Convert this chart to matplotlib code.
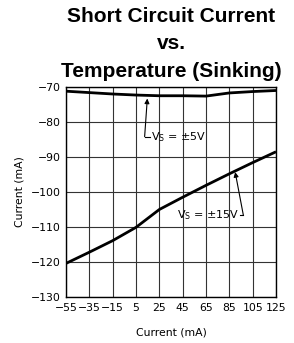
import matplotlib
matplotlib.use("Agg")
import matplotlib.pyplot as plt

# data
temp = [-55, -35, -15, 5, 25, 45, 65, 85, 105, 125]
i_5v = [-71.2, -71.6, -72.0, -72.3, -72.5, -72.5, -72.6, -71.7, -71.3, -71.0]
i_15v = [-120.4, -117.2, -113.9, -110.1, -105.0, -101.5, -98.1, -94.8, -91.6, -88.5]

xticks = [-55, -35, -15, 5, 25, 45, 65, 85, 105, 125]
yticks = [-70, -80, -90, -100, -110, -120, -130]

fig = plt.figure(figsize=(2.94, 3.43), dpi=100)
ax = fig.add_axes([66 / 294, 46 / 343, 210 / 294, 210 / 343])

ax.plot(temp, i_5v, color="black", lw=2.0, solid_capstyle="butt")
ax.plot(temp, i_15v, color="black", lw=2.0, solid_capstyle="butt")

ax.set_xlim(-55, 125)
ax.set_ylim(-130, -70)
ax.set_xticks(xticks)
ax.set_yticks(yticks)
ax.set_xticklabels([str(t).replace("-", "\u2212") for t in xticks])
ax.set_yticklabels([str(t).replace("-", "\u2212") for t in yticks])
ax.tick_params(length=0, labelsize=7.8, pad=4)
ax.grid(True, color="#333333", lw=0.8)
for s in ax.spines.values():
    s.set_linewidth(1.0)

ax.set_xlabel("Current (mA)", fontsize=7.8, labelpad=11)
ax.set_ylabel("Current (mA)", fontsize=7.8, labelpad=4)

ax.set_title("Short Circuit Current\nvs.\nTemperature (Sinking)",
             fontsize=15, fontweight="bold", family="Liberation Sans",
             linespacing=1.55, pad=7.5)

pm = "\u00b1"

# annotation for +-5V
ax.text(18.0, -84.2, r"V$_\mathrm{S}$ = " + pm + "5V",
        fontsize=8, va="center", ha="left")
ax.plot([12.4, 16.8], [-84.2, -84.2], color="black", lw=0.8)
ax.annotate("", xy=(14.7, -73.3), xytext=(12.4, -84.2),
            arrowprops=dict(arrowstyle="-|>", color="black", lw=0.8,
                            mutation_scale=7, shrinkA=0, shrinkB=0))

# annotation for +-15V
ax.text(93.8, -106.6, r"V$_\mathrm{S}$ = " + pm + "15V",
        fontsize=8, va="center", ha="right")
ax.plot([94, 97], [-106.6, -106.6], color="black", lw=0.8)
ax.annotate("", xy=(90.0, -94.3), xytext=(97, -106.6),
            arrowprops=dict(arrowstyle="-|>", color="black", lw=0.8,
                            mutation_scale=7, shrinkA=0, shrinkB=0))

fig.savefig("out.png", dpi=100)
